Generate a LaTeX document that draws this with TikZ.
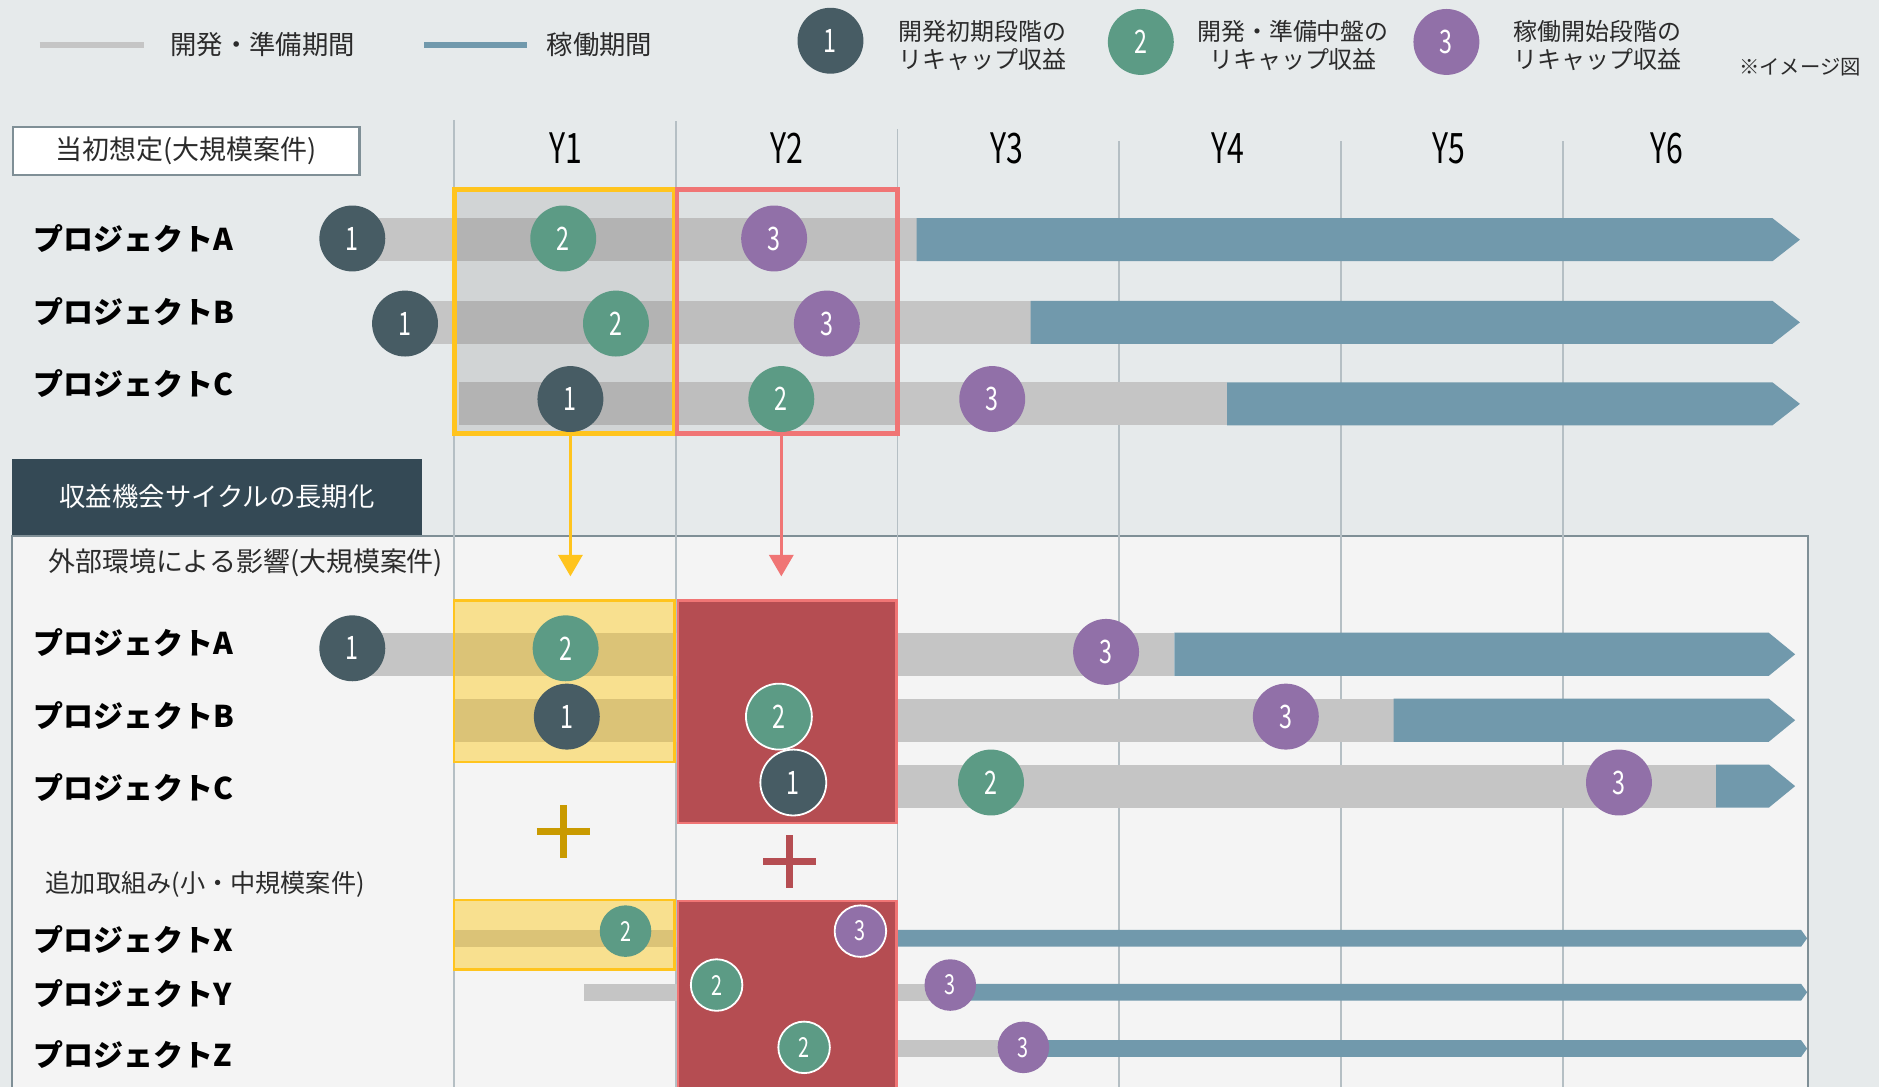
\documentclass[tikz,border=0pt]{standalone}
\usepackage{fontspec}
\setmainfont{Noto Sans CJK JP}
\newfontfamily\narrowfont[FakeStretch=0.72]{Noto Sans CJK JP}
\usepackage{tikz}
\usetikzlibrary{arrows.meta,positioning}
\definecolor{bgtop}{HTML}{E6EAEB}
\definecolor{panel}{HTML}{F4F4F4}
\definecolor{panelline}{HTML}{7F8F96}
\definecolor{gridc}{HTML}{B5BFC4}
\definecolor{devgray}{HTML}{C5C5C5}
\definecolor{runblue}{HTML}{7199AC}
\definecolor{cone}{HTML}{475C64}
\definecolor{ctwo}{HTML}{5C9B85}
\definecolor{cthree}{HTML}{9170A8}
\definecolor{yel}{HTML}{FFC41E}
\definecolor{redline}{HTML}{F07575}
\definecolor{lowred}{HTML}{B54D52}
\definecolor{yelfill}{HTML}{F8E08F}
\definecolor{yelbar}{HTML}{DBC377}
\definecolor{navy}{HTML}{344955}
\definecolor{plusy}{HTML}{C99A00}
\definecolor{ink}{HTML}{2B2B2B}
\tikzset{
    %Define standard arrow tip
    >={Triangle[width=20pt,length=18pt]},
    %Define style for circles
    stage/.style={
           circle,
           inner sep=0pt,
           minimum size=55pt,
           text=white,
           font=\narrowfont\fontsize{27}{30}\selectfont},
    stage1/.style={stage, fill=cone},
    stage2/.style={stage, fill=ctwo},
    stage3/.style={stage, fill=cthree},
    little/.style={minimum size=43pt, font=\narrowfont\fontsize{23}{26}\selectfont},
    ring/.style={draw=white, line width=1.5pt},
    %Define style for labels
    proj/.style={anchor=west, inner sep=0pt, text=black,
           font=\bfseries\fontsize{25}{30}\selectfont},
    year/.style={inner sep=0pt, font=\narrowfont\fontsize{35}{40}\selectfont},
    legendtxt/.style={inner sep=0pt, text=ink, font=\fontsize{22}{26}\selectfont},
    note/.style={inner sep=0pt, text=ink, align=center, font=\fontsize{20}{24}\selectfont},
    %Define style for boxes
    yearbox/.style={
           rectangle,
           inner sep=0pt,
           line width=4pt,
           minimum width=184pt,
           minimum height=204pt},
    lowbox/.style={rectangle, inner sep=0pt, line width=2pt, minimum width=184pt},
    % Define bar and arrow style
    devbar/.style={fill=devgray},
    runbar/.style={fill=runblue},
    pil/.style={->, line width=3pt}
}
\begin{document}
\begin{tikzpicture}[x=1pt,y=-1pt]
\useasboundingbox (0,0) rectangle (1568,907);
\fill[bgtop] (0,0) rectangle (1568,907);
\draw[panelline, fill=panel, line width=1.5pt] (10,447) rectangle (1509,915);

 %grid
\foreach \x/\t in {379/100,564/101,749/108,934/118,1119/118,1304/118}
    \draw[gridc, line width=1.5pt] (\x,\t) -- (\x,907);

 %legend
\draw[devgray, line width=5.5pt] (33,37.5) -- (120,37.5);
\node[legendtxt, anchor=west] (lgdev) at (142,37) {開発・準備期間};
\draw[runblue, line width=5.5pt] (354,37.5) -- (440,37.5);
\node[legendtxt, anchor=west] (lgrun) at (456,37) {稼働期間};
\node[stage1] (lg1) at (693,34) {1};
\node[note] (lgt1) at (820,38) {開発初期段階の\\リキャップ収益};
\node[stage2] (lg2) at (952,35) {2};
\node[note] (lgt2) at (1079,38) {開発・準備中盤の\\リキャップ収益};
\node[stage3] (lg3) at (1207,35) {3};
\node[note] (lgt3) at (1333,38) {稼働開始段階の\\リキャップ収益};
\node[inner sep=0pt, text=ink, font=\fontsize{17}{20}\selectfont] (img) at (1502,56) {※イメージ図};

 %header
\node[draw=panelline, fill=white, line width=2pt, minimum width=289pt, minimum height=40pt,
      font=\fontsize{22.5}{26}\selectfont, text=ink] (plan) at (155.5,126) {当初想定(大規模案件)};
\foreach \n/\x in {1/472,2/657,3/840,4/1025,5/1209,6/1391}
    \node[year] (y\n) at (\x,124) {Y\n};

 %initial plan bars
\foreach \y/\s/\e in {200/294/765, 269/338/860, 337/383/1024}{
    \fill[devbar] (\s,\y-18) rectangle (\e,\y+18);
    \fill[runbar] (\e,\y-18) -- (1479,\y-18) -- (1502,\y) -- (1479,\y+18) -- (\e,\y+18) -- cycle;
}
\node[yearbox, draw=yel, fill=black, fill opacity=0.09] (ybox) at (471,260) {};
\node[yearbox, draw=redline, fill=black, fill opacity=0.035] (rbox) at (657,260) {};

\node[proj] (pa) at (28,199) {プロジェクトA};
\node[proj] (pb) at (28,260) {プロジェクトB};
\node[proj] (pc) at (28,320) {プロジェクトC};

\node[stage1] (ta1) at (294,199) {1};
\node[stage2] (ta2) at (470,199) {2};
\node[stage3] (ta3) at (646,199) {3};
\node[stage1] (tb1) at (338,270) {1};
\node[stage2] (tb2) at (514,270) {2};
\node[stage3] (tb3) at (690,270) {3};
\node[stage1] (tc1) at (476,333) {1};
\node[stage2] (tc2) at (652,333) {2};
\node[stage3] (tc3) at (828,333) {3};

 %longer cycle
\node[fill=navy, text=white, minimum width=342pt, minimum height=63pt, anchor=north west,
      font=\fontsize{22}{26}\selectfont] (longer) at (10,383) {収益機会サイクルの長期化};
\node[inner sep=0pt, anchor=west, text=ink, font=\fontsize{22.5}{26}\selectfont] (ext) at (40,470) {外部環境による影響(大規模案件)};
\node[inner sep=0pt, anchor=west, text=ink, font=\fontsize{21}{24}\selectfont] (add) at (38,738) {追加取組み(小・中規模案件)};

 %affected bars
\foreach \y/\s/\e in {546/294/980, 601/379/1163, 656/749/1432}{
    \fill[devbar] (\s,\y-18) rectangle (\e,\y+18);
    \fill[runbar] (\e,\y-18) -- (1476,\y-18) -- (1498,\y) -- (1476,\y+18) -- (\e,\y+18) -- cycle;
}
\foreach \y/\s/\e in {783/379/749, 828/487/793, 875/749/854}{
    \fill[devbar] (\s,\y-7) rectangle (\e,\y+7);
    \fill[runbar] (\e,\y-7) -- (1503,\y-7) -- (1508,\y) -- (1503,\y+7) -- (\e,\y+7) -- cycle;
}
\node[lowbox, draw=yel, fill=yelfill, minimum height=135pt] (ylow) at (471,568.5) {};
\fill[yelbar] (380,528) rectangle (562,564);
\fill[yelbar] (380,583) rectangle (562,619);
\node[lowbox, draw=yel, fill=yelfill, minimum height=58pt] (yadd) at (471,780) {};
\fill[yelbar] (380,776) rectangle (562,790);
\node[lowbox, draw=redline, fill=lowred, minimum width=182pt, minimum height=186pt] (rlow) at (657,594) {};
\node[lowbox, draw=redline, fill=lowred, minimum width=182pt, minimum height=162pt] (radd) at (657,833) {};

\draw[pil, yel] (tc1 |- ybox.south) -- ([yshift=19pt]tc1 |- ylow.north);
\draw[pil, redline] (tc2 |- rbox.south) -- ([yshift=19pt]tc2 |- rlow.north);

\draw[plusy, line width=6pt] (448,694) -- (492,694) (470,672) -- (470,716);
\draw[lowred, line width=6pt] (637,719) -- (681,719) (659,697) -- (659,741);

\node[proj] (qa) at (28,536) {プロジェクトA};
\node[proj] (qb) at (28,597) {プロジェクトB};
\node[proj] (qc) at (28,657) {プロジェクトC};
\node[proj] (qx) at (28,784) {プロジェクトX};
\node[proj] (qy) at (28,829) {プロジェクトY};
\node[proj] (qz) at (28,880) {プロジェクトZ};

\node[stage1] (la1) at (294,541) {1};
\node[stage2] (la2) at (472,541) {2};
\node[stage3] (la3) at (923,544) {3};
\node[stage1] (lb1) at (473,598) {1};
\node[stage2, ring] (lb2) at (650,598) {2};
\node[stage3] (lb3) at (1073,598) {3};
\node[stage1, ring] (lc1) at (662,653) {1};
\node[stage2] (lc2) at (827,653) {2};
\node[stage3] (lc3) at (1351,653) {3};
\node[stage2, little] (x2) at (522,777) {2};
\node[stage3, little, ring] (x3) at (718,777) {3};
\node[stage2, little, ring] (yy2) at (598,822) {2};
\node[stage3, little] (yy3) at (793,822) {3};
\node[stage2, little, ring] (z2) at (671,874) {2};
\node[stage3, little] (z3) at (854,874) {3};
\end{tikzpicture}
\end{document}
